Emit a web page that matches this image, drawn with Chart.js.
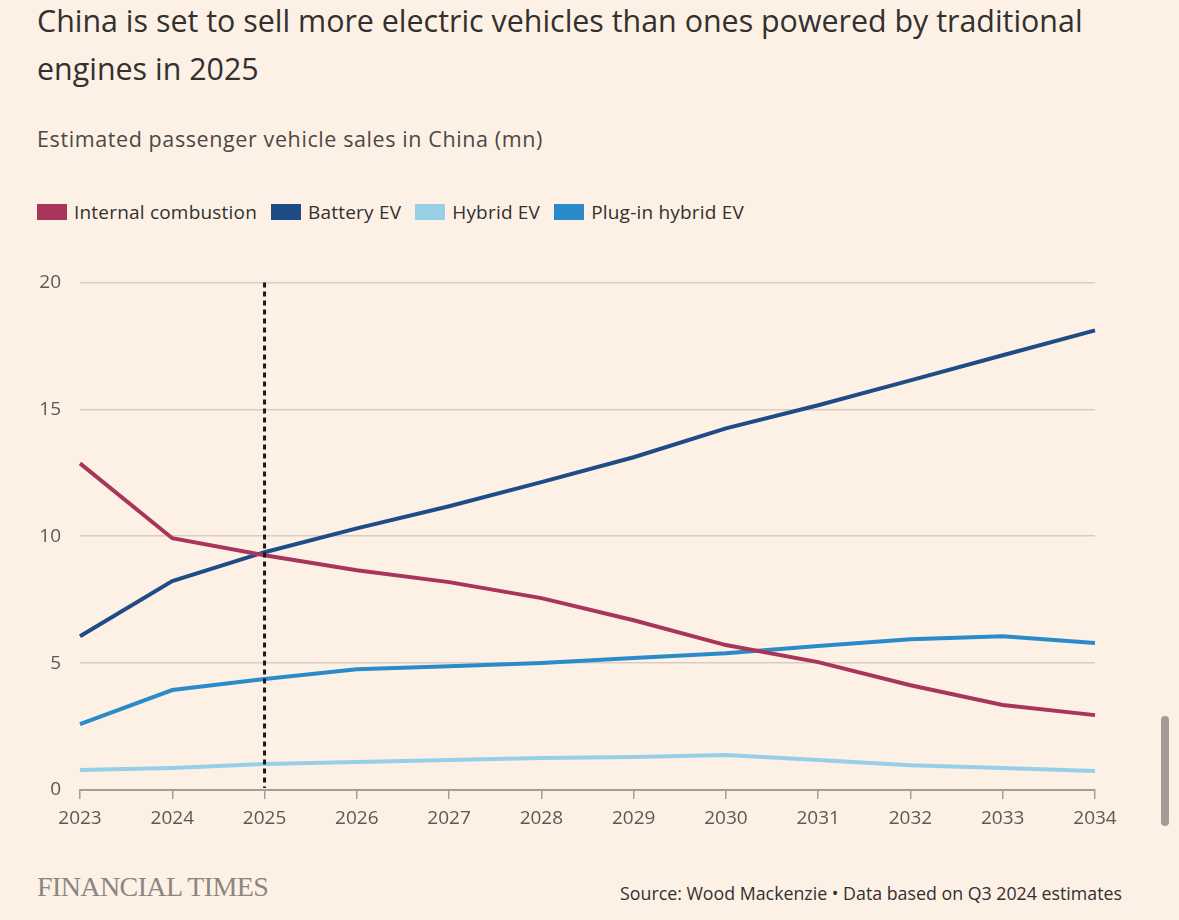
<!DOCTYPE html>
<html>
<head>
<meta charset="utf-8">
<script src="https://cdn.jsdelivr.net/npm/chart.js@4.4.1/dist/chart.umd.min.js"></script>
<style>
  html, body { margin: 0; padding: 0; }
  body {
    width: 1179px; height: 920px; background: #fdf1e6; position: relative;
    font-family: "Open Sans", "Noto Sans", sans-serif; color: #33302e; overflow: hidden;
  }
  .title { position: absolute; left: 37px; top: -3px; width: 1120px; font-size: 30.4px; line-height: 48px; color: #33302e; }
  .subtitle { position: absolute; left: 37px; top: 124px; font-size: 21.5px; letter-spacing: 0.6px; color: #4d4845; }
  .legend { position: absolute; left: 37px; top: 199px; display: flex; font-size: 19px; letter-spacing: 0.2px; color: #33302e; }
  .legend .item { display: flex; align-items: center; margin-right: 14px; }
  .legend .swatch { width: 30px; height: 16px; margin-right: 7px; }
  .chartWrap { position: absolute; left: 0; top: 252px; width: 1179px; height: 598px; }
  .ft { position: absolute; left: 37px; top: 871px; font-family: "Liberation Serif", serif; font-size: 28px; color: #8d8680; letter-spacing: -0.6px; }
  .source { position: absolute; right: 57px; top: 881px; font-size: 17.8px; color: #33302e; }
  .scrollbar { position: absolute; left: 1161px; top: 716px; width: 8px; height: 110px; border-radius: 4px; background: #a39b94; }
</style>
</head>
<body>
<div class="title">China is set to sell more electric vehicles than ones powered by traditional engines in 2025</div>
<div class="subtitle">Estimated passenger vehicle sales in China (mn)</div>
<div class="legend" id="legend"></div>
<div class="chartWrap"><canvas id="chart"></canvas></div>
<div class="ft">FINANCIAL TIMES</div>
<div class="source">Source: Wood Mackenzie • Data based on Q3 2024 estimates</div>
<div class="scrollbar"></div>

<script>
// Data
const years = ['2023', '2024', '2025', '2026', '2027', '2028', '2029', '2030', '2031', '2032', '2033', '2034'];
const internalCombustion = [12.87, 9.92, 9.25, 8.66, 8.19, 7.56, 6.69, 5.71, 5.04, 4.13, 3.35, 2.95];
const batteryEV = [6.06, 8.23, 9.37, 10.31, 11.18, 12.13, 13.11, 14.25, 15.16, 16.14, 17.13, 18.11];
const hybridEV = [0.79, 0.87, 1.02, 1.1, 1.18, 1.26, 1.3, 1.38, 1.18, 0.98, 0.87, 0.75];
const plugInHybridEV = [2.6, 3.94, 4.37, 4.76, 4.88, 5.0, 5.2, 5.39, 5.67, 5.94, 6.06, 5.79];
const yTicks = [0, 5, 10, 15, 20];
const markerYear = '2025';

const series = [
  { label: 'Internal combustion', data: internalCombustion, color: '#a8365c' },
  { label: 'Battery EV', data: batteryEV, color: '#1f4c86' },
  { label: 'Hybrid EV', data: hybridEV, color: '#96cfe6' },
  { label: 'Plug-in hybrid EV', data: plugInHybridEV, color: '#2a8bcb' }
];

// Build the legend
const legend = document.getElementById('legend');
series.forEach(s => {
  const item = document.createElement('div');
  item.className = 'item';
  item.innerHTML = `<span class="swatch" style="background:${s.color}"></span>${s.label}`;
  legend.appendChild(item);
});

// Dotted vertical line at the marker year
const markerLine = {
  id: 'markerLine',
  afterDatasetsDraw(chart) {
    const { ctx, chartArea, scales } = chart;
    const x = scales.x.getPixelForValue(years.indexOf(markerYear));
    ctx.save();
    ctx.strokeStyle = '#1a1a1a';
    ctx.lineWidth = 3;
    ctx.setLineDash([5, 4]);
    ctx.beginPath();
    ctx.moveTo(x, chartArea.top);
    ctx.lineTo(x, chartArea.bottom - 2);
    ctx.stroke();
    ctx.restore();
  }
};

const tickFont = { family: '"Open Sans", "Noto Sans", sans-serif', size: 19 };

new Chart(document.getElementById('chart'), {
  type: 'line',
  data: {
    labels: years,
    datasets: series.map(s => ({
      label: s.label,
      data: s.data,
      borderColor: s.color,
      backgroundColor: s.color,
      borderWidth: 4,
      pointRadius: 0,
      tension: 0
    }))
  },
  options: {
    responsive: true,
    maintainAspectRatio: false,
    animation: false,
    layout: { padding: { top: 14, right: 84, left: 0, bottom: 0 } },
    plugins: { legend: { display: false }, tooltip: { enabled: false } },
    scales: {
      x: {
        offset: false,
        afterFit(scale) { scale.height = 60; },
        border: { display: true, color: '#a59e97', width: 2 },
        grid: { drawOnChartArea: false, drawTicks: true, tickLength: 9, color: '#a59e97', lineWidth: 1.5 },
        ticks: { color: '#5e5852', font: tickFont, padding: 8, maxRotation: 0, autoSkip: false }
      },
      y: {
        min: 0,
        max: 20,
        afterFit(scale) { scale.width = 80; },
        afterBuildTicks(scale) { scale.ticks = yTicks.map(v => ({ value: v })); },
        border: { display: false },
        grid: {
          drawTicks: false,
          color: ctx => ctx.tick && ctx.tick.value === 0 ? 'rgba(0,0,0,0)' : '#d9cec3',
          lineWidth: 1.5
        },
        ticks: { color: '#5e5852', font: tickFont, padding: 19 }
      }
    }
  },
  plugins: [markerLine]
});
</script>
</body>
</html>
